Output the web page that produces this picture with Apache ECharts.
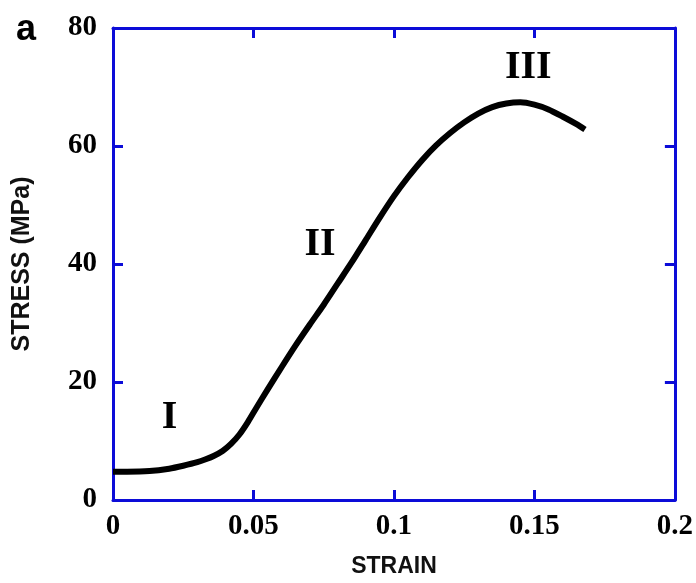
<!DOCTYPE html>
<html>
<head>
<meta charset="utf-8">
<script src="https://cdn.jsdelivr.net/npm/echarts@6/dist/echarts.min.js"></script>
<style>html,body{margin:0;padding:0;background:#fff}#c{width:696px;height:583px}</style>
</head>
<body>
<div id="c"></div>
<script>
const strain = [0, 0.005, 0.013, 0.02, 0.025, 0.03, 0.033, 0.036, 0.039, 0.042, 0.045, 0.048, 0.051, 0.055, 0.06, 0.065, 0.07, 0.075, 0.08, 0.085, 0.09, 0.095, 0.1, 0.105, 0.11, 0.115, 0.12, 0.125, 0.13, 0.135, 0.14, 0.145, 0.15, 0.155, 0.16, 0.165, 0.168];
const stress = [4.8, 4.8, 4.9, 5.3, 5.8, 6.4, 6.9, 7.5, 8.3, 9.5, 11.1, 13.2, 15.6, 18.7, 22.5, 26.2, 29.7, 33.1, 36.7, 40.3, 44.1, 47.9, 51.5, 54.7, 57.6, 60.1, 62.2, 64.0, 65.5, 66.6, 67.2, 67.4, 67.0, 66.2, 65.0, 63.7, 62.8];
const xTicks = [0, 0.05, 0.1, 0.15, 0.2];
const yTicks = [0, 20, 40, 60, 80];
const regionLabels = ['I', 'II', 'III'];
const regionStrain = [0.0201, 0.0737, 0.1478];
const regionStress = [14.0, 43.3, 73.2];

const blue = '#0c0cd8';
const tickFont = {fontFamily: 'Liberation Serif', fontWeight: 'bold', fontSize: 29, color: '#000'};
function axisCommon(showLabel) {
  return {
    axisLine: {show: true, onZero: false, lineStyle: {color: blue, width: 3}},
    axisTick: {show: true, inside: true, length: 10, lineStyle: {color: blue, width: 3}},
    splitLine: {show: false},
    axisLabel: Object.assign({show: showLabel}, tickFont)
  };
}
const chart = echarts.init(document.getElementById('c'), null, {renderer: 'canvas'});
const lineData = strain.map((s, i) => [s, stress[i]]);
chart.setOption({
  animation: false,
  backgroundColor: '#fff',
  title: {text: 'a', left: 11, top: 7, textStyle: {fontFamily: 'Liberation Sans', fontWeight: 'bold', fontSize: 36, color: '#000'}},
  grid: {left: 113, right: 16, top: 28, bottom: 80, containLabel: false},
  xAxis: [
    Object.assign(axisCommon(true), {type: 'value', min: 0, max: 0.2, interval: 0.05, position: 'bottom',
      name: 'STRAIN', nameLocation: 'middle', nameGap: 55,
      nameTextStyle: {fontFamily: 'Liberation Sans', fontWeight: 'bold', fontSize: 23, color: '#111'},
      axisLabel: Object.assign({show: true, margin: 12, formatter: v => String(+v.toFixed(2))}, tickFont)}),
    Object.assign(axisCommon(false), {type: 'value', min: 0, max: 0.2, interval: 0.05, position: 'top'})
  ],
  yAxis: [
    Object.assign(axisCommon(true), {type: 'value', min: 0, max: 80, interval: 20, position: 'left',
      name: 'STRESS (MPa)', nameLocation: 'middle', nameGap: 78,
      nameTextStyle: {fontFamily: 'Liberation Sans', fontWeight: 'bold', fontSize: 25, color: '#111'},
      axisLabel: Object.assign({show: true, margin: 16}, tickFont)}),
    Object.assign(axisCommon(false), {type: 'value', min: 0, max: 80, interval: 20, position: 'right'})
  ],
  series: [
    {type: 'line', data: lineData, smooth: 0.25, showSymbol: false, symbol: 'none',
      lineStyle: {color: '#000', width: 6}, z: 3}
  ]
});
const graphics = regionLabels.map((t, i) => {
  const p = chart.convertToPixel({gridIndex: 0}, [regionStrain[i], regionStress[i]]);
  return {type: 'text', x: p[0], y: p[1], z: 10,
    style: {text: t, align: 'center', verticalAlign: 'middle', fill: '#000',
      font: 'bold 40px "Liberation Serif"'}};
});
chart.setOption({graphic: graphics});
</script>
</body>
</html>
